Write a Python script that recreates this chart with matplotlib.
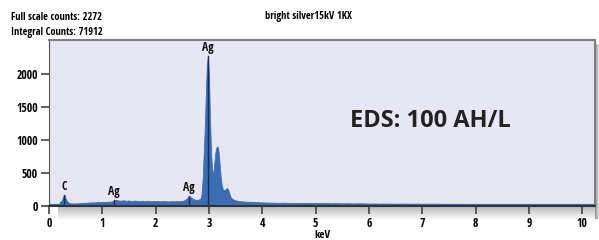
import numpy as np
import matplotlib
matplotlib.use("Agg")
from matplotlib import pyplot as plt

# spectrum (keV, counts)
energy = [0.20, 0.24, 0.27, 0.29, 0.31, 0.34, 0.38, 0.45, 0.53, 0.60, 0.70, 0.80, 0.85,
          0.95, 1.05, 1.16, 1.20, 1.24, 1.30, 1.35, 1.40, 1.45, 1.50, 1.55, 1.60, 1.65,
          1.70, 1.75, 1.80, 1.85, 1.90, 1.95, 2.00, 2.05, 2.10, 2.15, 2.20, 2.25, 2.30,
          2.35, 2.40, 2.45, 2.50, 2.55, 2.59, 2.63, 2.67, 2.72, 2.76, 2.80, 2.84, 2.86,
          2.88, 2.90, 2.92, 2.94, 2.96, 2.98, 3.00, 3.02, 3.04, 3.06, 3.08, 3.10, 3.12,
          3.14, 3.16, 3.18, 3.20, 3.22, 3.24, 3.26, 3.28, 3.30, 3.32, 3.34, 3.36, 3.38,
          3.40, 3.42, 3.45, 3.50, 3.55, 3.60, 3.65, 3.70, 3.80, 3.90,
          4.0, 4.1, 4.2, 4.3, 4.4, 4.5, 4.6, 4.7, 4.8, 4.9, 5.0, 5.1, 5.2, 5.3, 5.4, 5.5,
          5.6, 5.7, 5.8, 5.9, 6.0, 6.1, 6.2, 6.3, 6.4, 6.5, 6.6, 6.7, 6.8, 6.9, 7.0, 7.1,
          7.2, 7.3, 7.4, 7.5, 7.6, 7.7, 7.8, 7.9, 8.0, 8.1, 8.2, 8.3, 8.4, 8.5, 8.6, 8.7,
          8.8, 8.9, 9.0, 9.1, 9.2, 9.3, 9.4, 9.5, 9.6, 9.7, 9.8, 9.9, 10.0, 10.1, 10.24]
counts = [60, 80, 150, 166, 120, 70, 42, 38, 40, 44, 50, 55, 55,
          60, 62, 66, 75, 90, 84, 80, 86, 78, 84, 76, 82, 78,
          74, 80, 72, 80, 74, 78, 72, 76, 70, 75, 72, 68, 74,
          70, 76, 72, 78, 88, 120, 150, 125, 100, 92, 95, 110, 170,
          380, 760, 1150, 1650, 2120, 2272, 1950, 1300, 800, 540, 490, 640, 810,
          885, 900, 830, 640, 440, 310, 255, 235, 245, 262, 270, 250, 195,
          145, 120, 100, 85, 75, 72, 68, 65, 62, 58,
          55, 52, 50, 48, 50, 46, 47, 45, 46, 44, 45, 42, 44, 41, 43, 40,
          42, 39, 41, 40, 36, 38, 35, 37, 36, 34, 36, 35, 34, 35, 33, 34,
          33, 34, 32, 33, 32, 33, 31, 28, 26, 27, 25, 30, 24, 25, 23, 24,
          22, 28, 22, 21, 22, 20, 27, 26, 20, 19, 20, 18, 18, 18, 17]

# peak markers
peak_names = ["C", "Ag", "Ag", "Ag"]
peak_keV = [0.29, 1.22, 2.63, 2.98]
peak_top = [166, 90, 150, 2272]

x_ticks = [0, 1, 2, 3, 4, 5, 6, 7, 8, 9, 10]
y_ticks = [0, 500, 1000, 1500, 2000]

narrow = ["Open Sans Condensed", "DejaVu Sans"]

fig = plt.figure(figsize=(5.99, 2.40), dpi=100)

# drop shadow below and right of the plot box
sh = fig.add_axes([58 / 599, 21 / 240, 541 / 599, 13 / 240])
sh.imshow(np.linspace(0.72, 0.97, 20)[:, None] * np.ones((1, 10)), cmap="gray",
          vmin=0, vmax=1, aspect="auto", extent=[0, 1, 0, 1], origin="upper")
sh.axis("off")
sr = fig.add_axes([595 / 599, 21 / 240, 4 / 599, 175 / 240])
sr.imshow(np.ones((10, 1)) * np.linspace(0.55, 0.9, 10)[None, :], cmap="gray",
          vmin=0, vmax=1, aspect="auto", extent=[0, 1, 0, 1])
sr.axis("off")

ax = fig.add_axes([49 / 599, 34 / 240, 546 / 599, 166 / 240])
ax.set_facecolor("#e7e7f3")
ax.fill_between(energy, counts, 0, color="#3c6db4", lw=0.6, edgecolor="#3c6db4")
ax.axhline(8, color="#3c6db4", lw=1.5)

for name, e, top in zip(peak_names, peak_keV, peak_top):
    ax.plot([e, e], [0, top], color="#1c2c4c", lw=1.0)
    ax.text(e, top + 30, name, ha="center", va="bottom", fontsize=8.5,
            fontweight="bold", family=narrow, color="#111111")

ax.set_xlim(0, 10.24)
ax.set_ylim(0, 2510)
ax.set_xticks(x_ticks)
ax.set_yticks(y_ticks)
ax.tick_params(axis="both", direction="out", length=6, width=1.2, color="#444444",
               labelsize=8.5, pad=2)
for lab in ax.get_xticklabels() + ax.get_yticklabels():
    lab.set_family(narrow)
    lab.set_fontweight("bold")
ax.set_xlabel("keV", fontsize=8, fontweight="bold", family=narrow, labelpad=0)

for side in ["top", "right"]:
    ax.spines[side].set_color("#808080")
    ax.spines[side].set_linewidth(1.5)
ax.spines["left"].set_color("#555555")
ax.spines["bottom"].set_color("#333333")
ax.spines["bottom"].set_linewidth(1.5)

ax.text(0.698, 0.51, "EDS: 100 AH/L", transform=ax.transAxes, ha="center", va="center",
        fontsize=17, fontweight="bold", family="Open Sans", color="#222222")

fig.text(11 / 599, 1 - 17 / 240, "Full scale counts: 2272", fontsize=7.5,
         fontweight="bold", family=narrow, va="center")
fig.text(11 / 599, 1 - 33 / 240, "Integral Counts: 71912", fontsize=7.5,
         fontweight="bold", family=narrow, va="center")
fig.text(308 / 599, 1 - 17 / 240, "bright silver15kV 1KX", fontsize=7.5,
         fontweight="bold", family=narrow, va="center", ha="center")

fig.savefig("out.png", dpi=100)
